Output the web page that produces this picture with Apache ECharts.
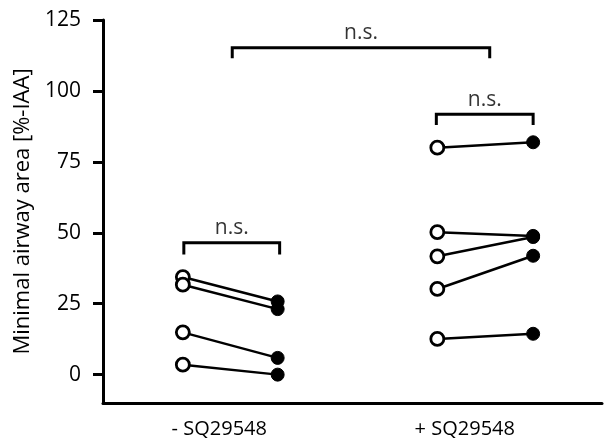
<!DOCTYPE html>
<html>
<head>
<meta charset="utf-8">
<title>Minimal airway area</title>
<script src="https://cdn.jsdelivr.net/npm/echarts@6/dist/echarts.min.js"></script>
<style>
  html, body { margin: 0; padding: 0; background: #fff; }
  #main { width: 604px; height: 441px; }
</style>
</head>
<body>
<div id="main"></div>
<script>
// data (%-IAA)
var groups = ['- SQ29548', '+ SQ29548'];
var groupLabelPos = [23.3, 72.5];
var xPos = [16, 35, 67, 86.2];   // open / filled positions for both groups
var leftBefore = [34.4, 31.7, 14.9, 3.5];
var leftAfter = [25.8, 23.1, 5.9, 0];
var rightBefore = [80, 50.2, 41.7, 30.2, 12.6];
var rightAfter = [81.9, 48.9, 48.5, 41.9, 14.4];
var yTicks = [0, 25, 50, 75, 100, 125];

// significance brackets: [x1, x2, yTop, yBottom]
var brackets = [
  [16.2, 35.4, 46.5, 42.3],
  [66.8, 86.2, 91.8, 88],
  [25.9, 77.5, 115.2, 111.5]
];

var font = '"Open Sans", "Noto Sans", sans-serif';

function pairSeries(before, after, x0, x1) {
  return before.map(function (b, i) {
    return {
      type: 'line',
      data: [
        { value: [x0, b], itemStyle: { color: '#fff', borderColor: '#000', borderWidth: 2.8 } },
        { value: [x1, after[i]], itemStyle: { color: '#000', borderColor: '#000', borderWidth: 1 } }
      ],
      symbol: 'circle',
      symbolSize: 13,
      lineStyle: { color: '#000', width: 2.5 },
      silent: true,
      z: 3
    };
  });
}

var series = [].concat(
  pairSeries(leftBefore, leftAfter, xPos[0], xPos[1]),
  pairSeries(rightBefore, rightAfter, xPos[2], xPos[3])
);

brackets.forEach(function (b) {
  series.push({
    type: 'line',
    data: [[b[0], b[3]], [b[0], b[2]], [b[1], b[2]], [b[1], b[3]]],
    symbol: 'none',
    lineStyle: { color: '#000', width: 3, cap: 'butt', join: 'miter' },
    silent: true,
    z: 2
  });
});

// "n.s." labels above brackets
series.push({
  type: 'scatter',
  symbolSize: 0,
  data: brackets.map(function (b) { return [(b[0] + b[1]) / 2, b[2]]; }),
  label: {
    show: true,
    position: 'top',
    distance: 4,
    formatter: 'n.s.',
    color: '#000',
    fontSize: 21,
    fontFamily: font
  },
  silent: true
});

var chart = echarts.init(document.getElementById('main'));
chart.setOption({
  animation: false,
  backgroundColor: '#fff',
  grid: { left: 103, right: 2, top: 20, bottom: 38 },
  xAxis: {
    type: 'value',
    min: 0,
    max: 100,
    splitLine: { show: false },
    axisTick: { show: false },
    axisLine: { onZero: false, lineStyle: { color: '#000', width: 3 } },
    axisLabel: {
      customValues: groupLabelPos,
      formatter: function (v) {
        var i = groupLabelPos.indexOf(v);
        return i >= 0 ? groups[i] : '';
      },
      color: '#000',
      fontSize: 20,
      fontFamily: font,
      margin: 16
    }
  },
  yAxis: {
    type: 'value',
    min: -10,
    max: 125,
    name: 'Minimal airway area [%-IAA]',
    nameLocation: 'middle',
    nameGap: 66,
    nameTextStyle: { color: '#000', fontSize: 22, fontFamily: font },
    splitLine: { show: false },
    axisLine: { show: true, lineStyle: { color: '#000', width: 3 } },
    axisTick: { show: true, customValues: yTicks, length: 10, lineStyle: { color: '#000', width: 3 } },
    axisLabel: { customValues: yTicks, color: '#000', fontSize: 21, fontFamily: font, margin: 22 }
  },
  series: series
});
</script>
</body>
</html>
